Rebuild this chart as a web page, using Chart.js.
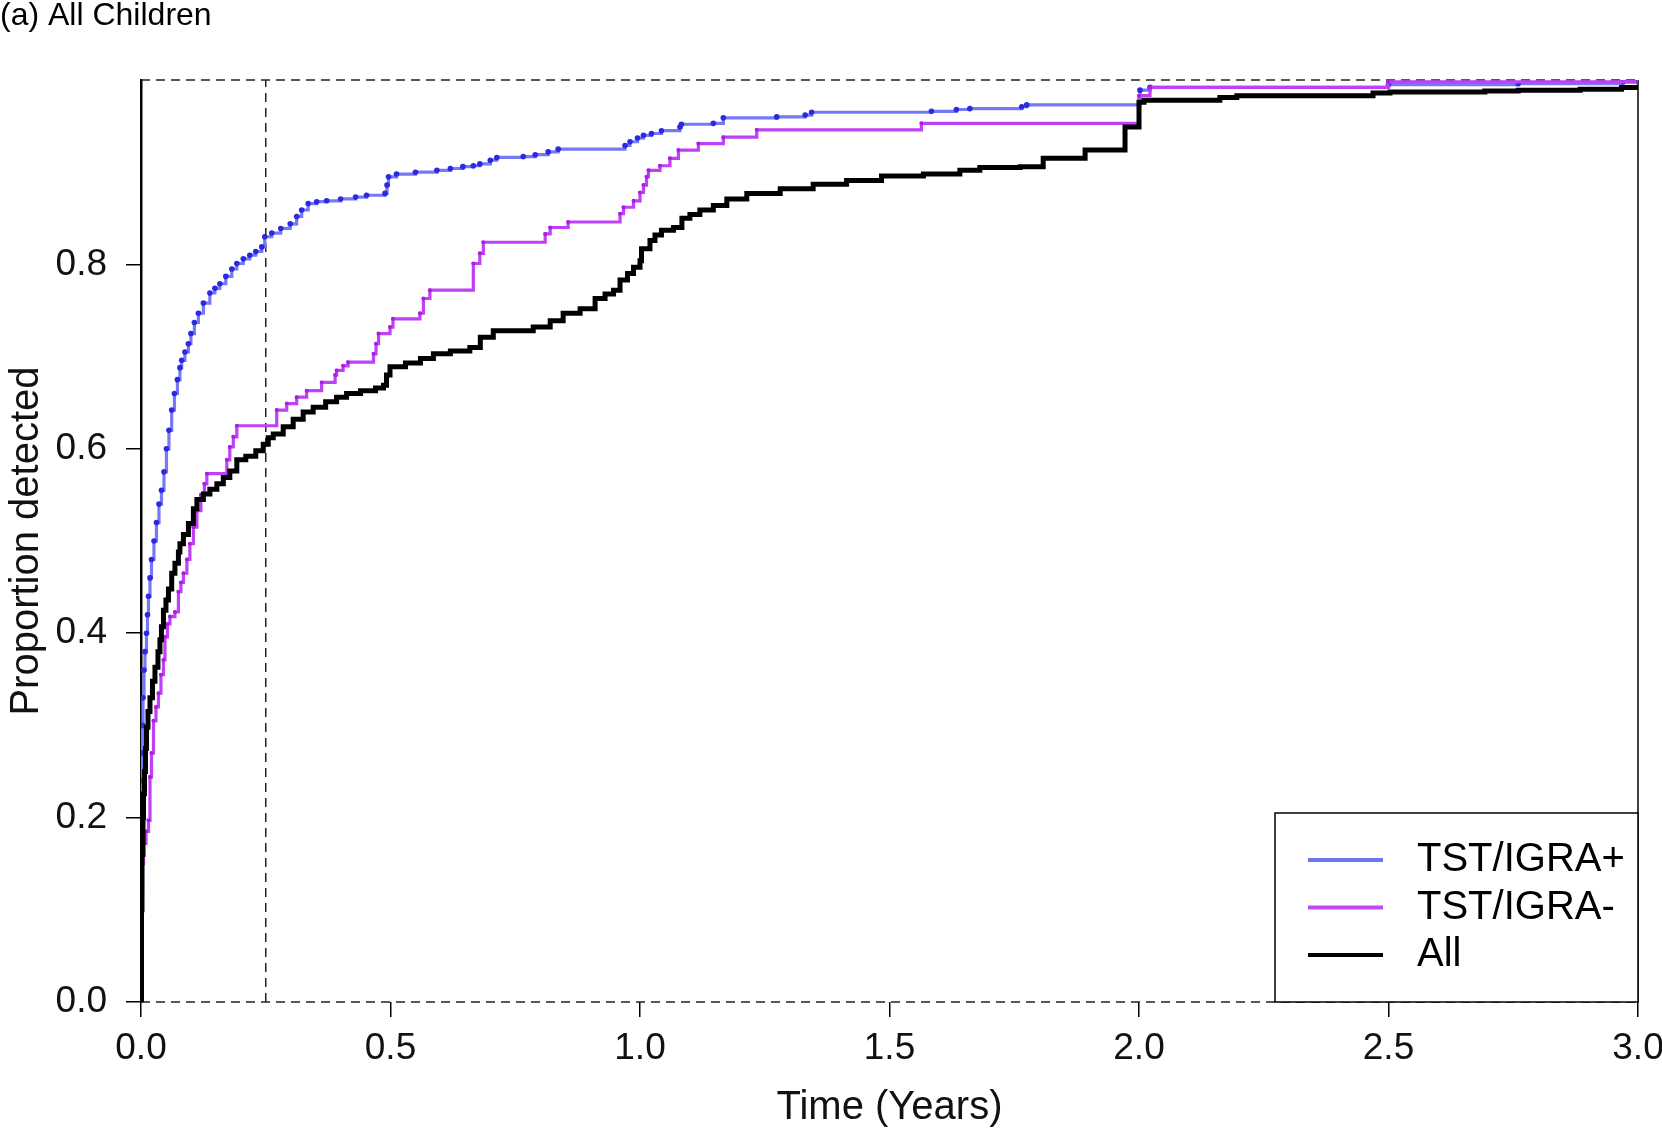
<!DOCTYPE html>
<html>
<head>
<meta charset="utf-8">
<title>Proportion detected</title>
<script src="https://cdn.jsdelivr.net/npm/chart.js@4.4.0/dist/chart.umd.min.js"></script>
<style>
  html, body { margin: 0; padding: 0; background: #fff; }
  #wrap { width: 1662px; height: 1138px; }
</style>
</head>
<body>
<div id="wrap"><canvas id="kmChart"></canvas></div>
<script>
// cumulative proportion detected (time in years)
const tPos = [0, 0.0005, 0.001, 0.002, 0.003, 0.004, 0.006, 0.008, 0.011, 0.013, 0.015, 0.018, 0.021, 0.026, 0.031, 0.036,
  0.041, 0.046, 0.051, 0.056, 0.0615, 0.067, 0.073, 0.078, 0.0815, 0.088, 0.095, 0.100, 0.107, 0.115, 0.125, 0.138,
  0.148, 0.158, 0.170, 0.182, 0.192, 0.205, 0.218, 0.230, 0.242, 0.248, 0.262, 0.280, 0.299, 0.312, 0.322, 0.335,
  0.352, 0.372, 0.400, 0.430, 0.452, 0.489, 0.493, 0.496, 0.512, 0.550, 0.593, 0.620, 0.645, 0.666, 0.679, 0.700,
  0.713, 0.766, 0.790, 0.816, 0.836, 0.970, 0.980, 0.995, 1.007, 1.023, 1.043, 1.080, 1.083, 1.147, 1.167, 1.274,
  1.331, 1.344, 1.584, 1.634, 1.661, 1.765, 1.775, 2.002, 2.022, 2.500, 2.760, 2.970, 3.0];
const pPos = [0, 0.20, 0.24, 0.27, 0.30, 0.33, 0.36, 0.38, 0.40, 0.42, 0.44, 0.46, 0.48, 0.50, 0.52, 0.54,
  0.555, 0.575, 0.60, 0.62, 0.642, 0.66, 0.675, 0.688, 0.696, 0.705, 0.714, 0.725, 0.737, 0.747, 0.758, 0.769,
  0.774, 0.779, 0.787, 0.795, 0.801, 0.806, 0.810, 0.814, 0.819, 0.830, 0.834, 0.839, 0.844, 0.852, 0.859, 0.866,
  0.868, 0.869, 0.871, 0.873, 0.875, 0.877, 0.886, 0.895, 0.898, 0.900, 0.902, 0.904, 0.906, 0.907, 0.909, 0.913,
  0.916, 0.917, 0.919, 0.922, 0.925, 0.929, 0.933, 0.937, 0.940, 0.942, 0.945, 0.949, 0.952, 0.953, 0.959, 0.960,
  0.962, 0.965, 0.966, 0.968, 0.969, 0.971, 0.973, 0.989, 0.992, 0.995, 0.996, 0.998, 0.998];

const tNeg = [0, 0.001, 0.003, 0.005, 0.010, 0.015, 0.018, 0.021, 0.025, 0.030, 0.035, 0.040, 0.045, 0.048, 0.053,
  0.058, 0.068, 0.075, 0.080, 0.085, 0.092, 0.098, 0.105, 0.112, 0.120, 0.127, 0.132, 0.172, 0.178, 0.185, 0.192,
  0.272, 0.292, 0.312, 0.332, 0.362, 0.389, 0.392, 0.405, 0.415, 0.466, 0.471, 0.476, 0.499, 0.505, 0.559, 0.566,
  0.579, 0.666, 0.679, 0.686, 0.810, 0.820, 0.856, 0.960, 0.967, 0.987, 1.000, 1.007, 1.013, 1.017, 1.040, 1.060,
  1.077, 1.117, 1.167, 1.234, 1.564, 2.000, 2.022, 2.499, 3.0];
const pNeg = [0, 0.12, 0.15, 0.172, 0.185, 0.197, 0.244, 0.27, 0.305, 0.32, 0.335, 0.355, 0.371, 0.396, 0.410,
  0.418, 0.423, 0.445, 0.455, 0.465, 0.48, 0.497, 0.515, 0.533, 0.550, 0.562, 0.573, 0.588, 0.602, 0.613, 0.625,
  0.642, 0.649, 0.656, 0.663, 0.672, 0.680, 0.685, 0.690, 0.694, 0.703, 0.714, 0.725, 0.732, 0.741, 0.747, 0.763,
  0.772, 0.801, 0.812, 0.824, 0.833, 0.840, 0.846, 0.855, 0.862, 0.869, 0.878, 0.886, 0.895, 0.902, 0.907, 0.915,
  0.924, 0.931, 0.938, 0.946, 0.953, 0.983, 0.992, 0.998, 0.998];

const tAll = [0, 0.001, 0.002, 0.004, 0.005, 0.007, 0.009, 0.011, 0.014, 0.018, 0.023, 0.028, 0.034, 0.038, 0.041,
  0.045, 0.050, 0.055, 0.0615, 0.068, 0.075, 0.078, 0.085, 0.095, 0.105, 0.112, 0.125, 0.138, 0.152, 0.165, 0.178,
  0.192, 0.210, 0.230, 0.245, 0.255, 0.265, 0.285, 0.305, 0.325, 0.345, 0.370, 0.392, 0.412, 0.440, 0.470, 0.486,
  0.492, 0.499, 0.530, 0.560, 0.586, 0.620, 0.659, 0.680, 0.706, 0.786, 0.820, 0.846, 0.880, 0.910, 0.930, 0.947,
  0.960, 0.975, 0.987, 1.000, 1.003, 1.020, 1.030, 1.043, 1.067, 1.084, 1.100, 1.120, 1.147, 1.174, 1.214, 1.281,
  1.347, 1.414, 1.484, 1.568, 1.641, 1.681, 1.762, 1.808, 1.892, 1.972, 2.000, 2.010, 2.162, 2.196, 2.469, 2.503,
  2.693, 2.760, 2.884, 2.967, 3.0];
const pAll = [0, 0.10, 0.16, 0.20, 0.226, 0.25, 0.275, 0.298, 0.315, 0.330, 0.348, 0.363, 0.380, 0.393, 0.407,
  0.425, 0.436, 0.448, 0.465, 0.476, 0.488, 0.497, 0.507, 0.519, 0.535, 0.545, 0.551, 0.556, 0.562, 0.569, 0.576,
  0.588, 0.592, 0.598, 0.605, 0.612, 0.616, 0.624, 0.632, 0.640, 0.645, 0.651, 0.656, 0.660, 0.663, 0.666, 0.669,
  0.680, 0.689, 0.693, 0.698, 0.703, 0.706, 0.710, 0.721, 0.728, 0.732, 0.739, 0.747, 0.752, 0.763, 0.768, 0.772,
  0.783, 0.790, 0.797, 0.804, 0.817, 0.826, 0.832, 0.837, 0.840, 0.850, 0.854, 0.859, 0.864, 0.871, 0.877, 0.882,
  0.887, 0.891, 0.896, 0.898, 0.902, 0.905, 0.906, 0.915, 0.924, 0.949, 0.976, 0.978, 0.981, 0.983, 0.986, 0.987,
  0.988, 0.989, 0.990, 0.992, 0.992];

const seriesNames = ["TST/IGRA+", "TST/IGRA-", "All"];
const xTicks = [0, 0.5, 1, 1.5, 2, 2.5, 3];
const yTicks = [0, 0.2, 0.4, 0.6, 0.8];
const cutoffYears = 0.25;   // dashed vertical line (3 months)

const FONT = "'Liberation Sans', Arial, sans-serif";

function toPoints(ts, ps) {
  return ts.map((t, i) => ({ x: t, y: ps[i] }));
}

// dashed reference lines + right frame edge
const refLines = {
  id: 'refLines',
  beforeDatasetsDraw(chart) {
    const { ctx, scales: { x, y } } = chart;
    ctx.save();
    ctx.strokeStyle = '#222';
    ctx.lineWidth = 1.5;
    ctx.setLineDash([9, 6]);
    ctx.beginPath();
    ctx.moveTo(x.getPixelForValue(cutoffYears), y.getPixelForValue(0));
    ctx.lineTo(x.getPixelForValue(cutoffYears), y.getPixelForValue(1));
    [0, 1].forEach(v => {
      ctx.moveTo(x.getPixelForValue(0), y.getPixelForValue(v));
      ctx.lineTo(x.getPixelForValue(3), y.getPixelForValue(v));
    });
    ctx.stroke();
    ctx.setLineDash([]);
    ctx.strokeStyle = '#000';
    ctx.beginPath();
    ctx.moveTo(x.getPixelForValue(3), y.getPixelForValue(0));
    ctx.lineTo(x.getPixelForValue(3), y.getPixelForValue(1));
    ctx.stroke();
    ctx.restore();
  }
};

// boxed legend in the lower right corner of the plot
const boxLegend = {
  id: 'boxLegend',
  afterDatasetsDraw(chart) {
    const { ctx, chartArea } = chart;
    const w = 363, h = 189;
    const x0 = chartArea.right - w, y0 = chartArea.bottom - h;
    ctx.save();
    ctx.fillStyle = '#fff';
    ctx.fillRect(x0, y0, w, h);
    ctx.strokeStyle = '#000';
    ctx.lineWidth = 1.5;
    ctx.strokeRect(x0, y0, w, h);
    ctx.font = '40px ' + FONT;
    ctx.textBaseline = 'middle';
    ctx.fillStyle = '#000';
    chart.data.datasets.forEach((ds, i) => {
      const ly = y0 + 47 + i * 47.5;
      ctx.strokeStyle = ds.legendColor;
      ctx.lineWidth = 4;
      ctx.beginPath();
      ctx.moveTo(x0 + 33, ly);
      ctx.lineTo(x0 + 108, ly);
      ctx.stroke();
      ctx.fillText(ds.label, x0 + 142, ly);
    });
    ctx.restore();
  }
};

const ctx = document.getElementById('kmChart').getContext('2d');
new Chart(ctx, {
  type: 'line',
  data: {
    datasets: [{
      label: seriesNames[0],
      data: toPoints(tPos, pPos),
      borderColor: 'rgb(118,120,246)',
      legendColor: 'rgb(110,118,240)',
      borderWidth: 3.2,
      stepped: 'before',
      pointRadius: c => (c.dataIndex === 0 ? 0 : 2.8),
      pointBackgroundColor: '#2a2ae0',
      pointBorderWidth: 0,
      order: 2
    }, {
      label: seriesNames[1],
      data: toPoints(tNeg, pNeg),
      borderColor: '#bf40f6',
      legendColor: '#c04af2',
      borderWidth: 3.2,
      stepped: 'before',
      pointRadius: c => (c.dataIndex === 0 ? 0 : 2),
      pointBackgroundColor: '#a81fe0',
      pointBorderWidth: 0,
      order: 1
    }, {
      label: seriesNames[2],
      data: toPoints(tAll, pAll),
      borderColor: '#000',
      legendColor: '#000',
      borderWidth: 5,
      stepped: 'before',
      pointRadius: 0,
      order: 0
    }]
  },
  options: {
    responsive: true,
    maintainAspectRatio: false,
    animation: false,
    layout: { padding: { left: 0, right: 24, top: 0, bottom: 0 } },
    plugins: {
      legend: { display: false },
      tooltip: { enabled: false },
      title: {
        display: true,
        text: '(a) All Children',
        align: 'start',
        color: '#000',
        font: { family: FONT, size: 32, weight: 'normal', lineHeight: 1 },
        padding: { top: 0, bottom: 48 }
      }
    },
    scales: {
      x: {
        type: 'linear',
        min: 0,
        max: 3,
        afterBuildTicks: s => { s.ticks = xTicks.map(v => ({ value: v })); },
        afterFit: s => { s.height = 136; s.paddingLeft = 0; s.paddingRight = 0; },
        ticks: {
          color: '#111',
          padding: 10,
          maxRotation: 0,
          font: { family: FONT, size: 37 },
          callback: v => Number(v).toFixed(1)
        },
        grid: { display: true, drawOnChartArea: false, drawTicks: true, tickLength: 15, color: '#000', lineWidth: 1.5 },
        border: { display: false },
        title: {
          display: true,
          text: 'Time (Years)',
          color: '#111',
          font: { family: FONT, size: 40 },
          padding: { top: 0, bottom: 6 }
        }
      },
      y: {
        type: 'linear',
        min: 0,
        max: 1,
        afterBuildTicks: s => { s.ticks = yTicks.map(v => ({ value: v })); },
        afterFit: s => { s.width = 141; },
        ticks: {
          color: '#111',
          padding: 19,
          font: { family: FONT, size: 37 },
          callback: v => Number(v).toFixed(1)
        },
        grid: { display: true, drawOnChartArea: false, drawTicks: true, tickLength: 15, color: '#000', lineWidth: 1.5 },
        border: { display: true, color: '#000', width: 2.5 },
        title: {
          display: true,
          text: 'Proportion detected',
          color: '#111',
          font: { family: FONT, size: 40 },
          padding: { top: 3, bottom: 0 }
        }
      }
    }
  },
  plugins: [refLines, boxLegend]
});
</script>
</body>
</html>
